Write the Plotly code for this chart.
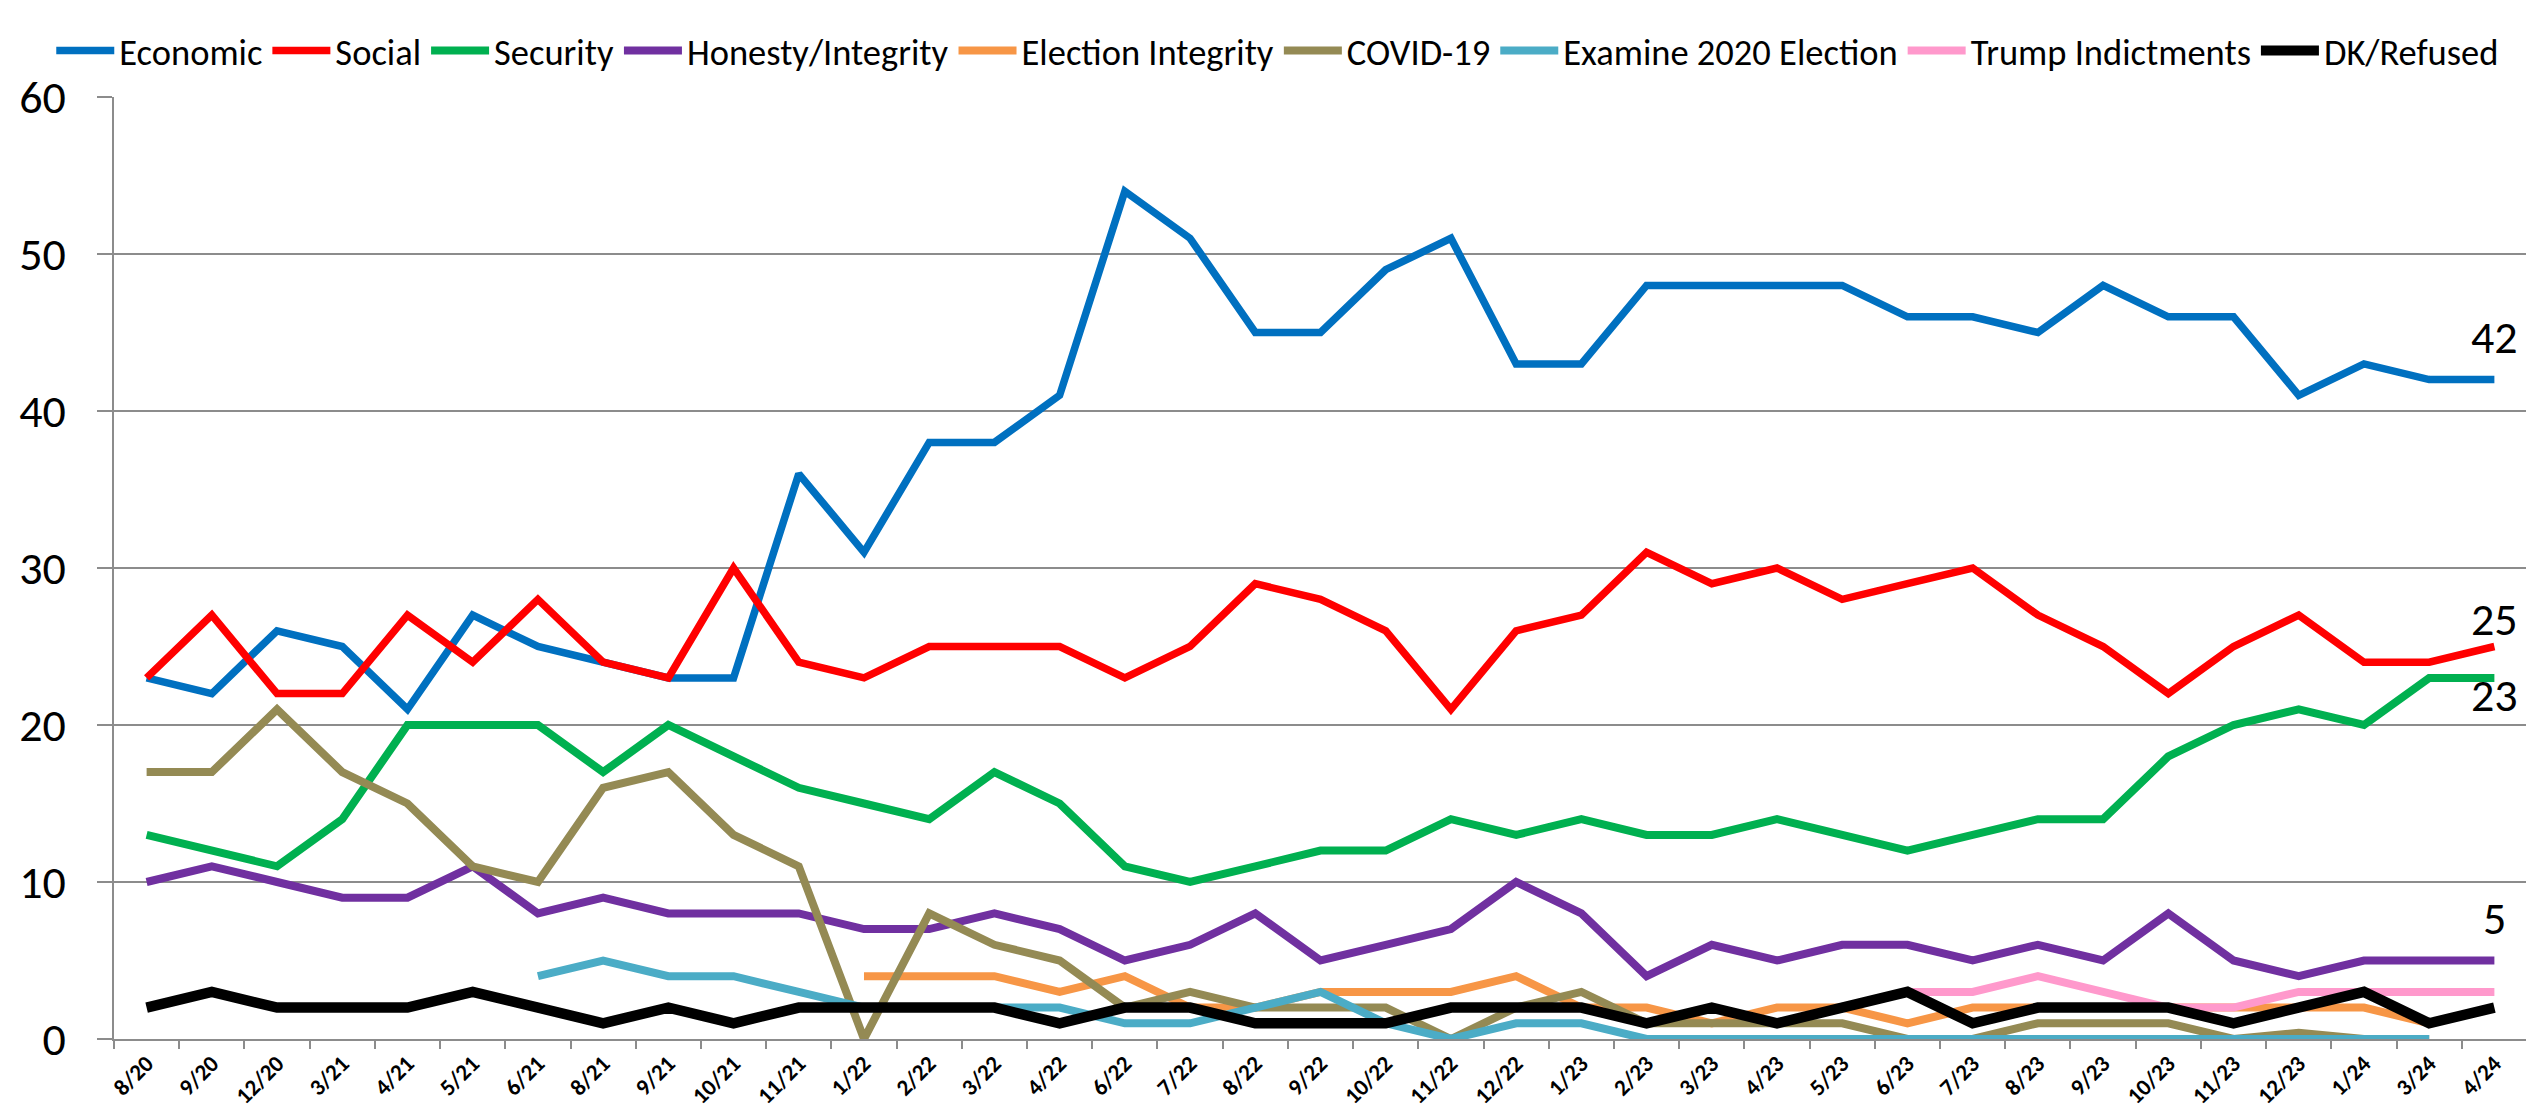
import plotly.graph_objects as go

categories = ["8/20", "9/20", "12/20", "3/21", "4/21", "5/21", "6/21", "8/21", "9/21", "10/21",
              "11/21", "1/22", "2/22", "3/22", "4/22", "6/22", "7/22", "8/22", "9/22", "10/22",
              "11/22", "12/22", "1/23", "2/23", "3/23", "4/23", "5/23", "6/23", "7/23", "8/23",
              "9/23", "10/23", "11/23", "12/23", "1/24", "3/24", "4/24"]

economic = [23, 22, 26, 25, 21, 27, 25, 24, 23, 23, 36, 31, 38, 38, 41, 54, 51, 45, 45, 49,
            51, 43, 43, 48, 48, 48, 48, 46, 46, 45, 48, 46, 46, 41, 43, 42, 42]
social = [23, 27, 22, 22, 27, 24, 28, 24, 23, 30, 24, 23, 25, 25, 25, 23, 25, 29, 28, 26,
          21, 26, 27, 31, 29, 30, 28, 29, 30, 27, 25, 22, 25, 27, 24, 24, 25]
security = [13, 12, 11, 14, 20, 20, 20, 17, 20, 18, 16, 15, 14, 17, 15, 11, 10, 11, 12, 12,
            14, 13, 14, 13, 13, 14, 13, 12, 13, 14, 14, 18, 20, 21, 20, 23, 23]
honesty = [10, 11, 10, 9, 9, 11, 8, 9, 8, 8, 8, 7, 7, 8, 7, 5, 6, 8, 5, 6,
           7, 10, 8, 4, 6, 5, 6, 6, 5, 6, 5, 8, 5, 4, 5, 5, 5]
election_integrity = [None] * 11 + [4, 4, 4, 3, 4, 2, 2, 3, 3, 3, 4, 2, 2, 1, 2, 2, 1, 2, 2,
                                    2, 2, 2, 2, 2, 1, None]
covid = [17, 17, 21, 17, 15, 11, 10, 16, 17, 13, 11, 0, 8, 6, 5, 2, 3, 2, 2, 2,
         0, 2, 3, 1, 1, 1, 1, 0, 0, 1, 1, 1, 0, 0.4, 0, 0, None]
examine_2020 = [None] * 6 + [4, 5, 4, 4, 3, 2, 2, 2, 2, 1, 1, 2, 3, 1, 0, 1, 1, 0, 0, 0,
                             0, 0, 0, 0, 0, 0, 0, 0, 0, 0, None]
trump_indictments = [None] * 27 + [3, 3, 4, 3, 2, 2, 3, 3, 3, 3]
dk_refused = [2, 3, 2, 2, 2, 3, 2, 1, 2, 1, 2, 2, 2, 2, 1, 2, 2, 1, 1, 1,
              2, 2, 2, 1, 2, 1, 2, 3, 1, 2, 2, 2, 1, 2, 3, 1, 2]

series = [
    ("Economic", economic, "#0070C0", 7.5),
    ("Social", social, "#FF0000", 7.5),
    ("Security", security, "#00B050", 8),
    ("Honesty/Integrity", honesty, "#7030A0", 8),
    ("Election Integrity", election_integrity, "#F79646", 8),
    ("COVID-19", covid, "#948A54", 8),
    ("Examine 2020 Election", examine_2020, "#4BACC6", 8),
    ("Trump Indictments", trump_indictments, "#FF99CC", 8),
    ("DK/Refused", dk_refused, "#000000", 10.5),
]

FONT = "Carlito, Lato, sans-serif"
GRID = "#8c8c8c"

fig = go.Figure()
for name, vals, color, width in series:
    fig.add_trace(go.Scatter(x=categories, y=vals, name=name, mode="lines",
                             line=dict(color=color, width=width), connectgaps=False))

# end-of-line value labels
end_labels = [(economic, 2.7), (social, 1.75), (security, -1.1), (honesty, 2.7)]
for vals, off in end_labels:
    fig.add_annotation(x=categories[-1], y=vals[-1] + off, text=str(vals[-1]),
                       showarrow=False, font=dict(family=FONT, size=46, color="black"))

fig.update_layout(
    template="none",
    width=2534, height=1110,
    margin=dict(l=106, r=15, t=71, b=79),
    paper_bgcolor="white", plot_bgcolor="white",
    font=dict(family=FONT, color="black"),
    legend=dict(orientation="h", x=-0.026, xanchor="left", y=1.049, yanchor="middle",
                font=dict(family=FONT, size=36.5), itemwidth=58, bgcolor="rgba(0,0,0,0)"),
    xaxis=dict(type="category", range=[-0.5, 36.5], tickson="boundaries", ticks="outside",
               ticklen=8, tickwidth=2, tickcolor=GRID, showline=True, linecolor=GRID,
               linewidth=2, showgrid=False, tickangle=-45,
               tickfont=dict(family=FONT, size=23, weight="bold")),
    yaxis=dict(range=[0, 60], dtick=10, showgrid=True, gridcolor=GRID, gridwidth=2,
               showline=True, linecolor=GRID, linewidth=2, ticks="outside", ticklen=15,
               tickwidth=2, tickcolor=GRID, zeroline=False, ticklabelstandoff=22,
               tickfont=dict(family=FONT, size=46)),
)

fig.write_html("out.html")
